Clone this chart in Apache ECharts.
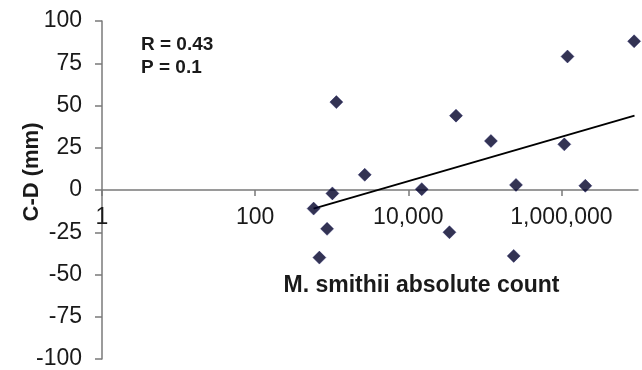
<!DOCTYPE html>
<html>
<head>
<meta charset="utf-8">
<script src="https://cdn.jsdelivr.net/npm/echarts@6/dist/echarts.min.js"></script>
<style>html,body{margin:0;padding:0;background:#fff}#c{width:642px;height:370px}</style>
</head>
<body>
<div id="c"></div>
<script>
// Data
var countX = [580, 690, 870, 1020, 1150, 2700, 15000, 34500, 42000, 120000, 238000, 255000, 1090000, 1200000, 2050000, 8900000];
var cdY = [-11, -40, -23, -2, 52, 9, 0.5, -25, 44, 29, -39, 3, 27, 79, 2.5, 88];
var trendX = [580, 9000000];
var trendY = [-11, 44];
var xTickValues = [1, 100, 10000, 1000000];
var xTickLabels = ['1', '100', '10,000', '1,000,000'];
var yTickValues = [-100, -75, -50, -25, 0, 25, 50, 75, 100];
var annotations = ['R = 0.43', 'P = 0.1'];
var xTitle = 'M. smithii absolute count';
var yTitle = 'C-D (mm)';

var FONT = '"Liberation Sans", Arial, sans-serif';
var chart = echarts.init(document.getElementById('c'), null, {renderer: 'canvas'});

function pairs(xs, ys) { return xs.map(function (x, i) { return [x, ys[i]]; }); }

var gridTop = 21, gridBottom = 11, H = 370;
var plotH = H - gridTop - gridBottom;
// x axis crosses at y = 0 (middle of -100..100)
var xOffset = -plotH / 2;

chart.setOption({
  animation: false,
  backgroundColor: '#ffffff',
  grid: {left: 102, right: 4, top: gridTop, bottom: gridBottom, containLabel: false, outerBoundsMode: 'none'},
  xAxis: {
    type: 'log', logBase: 10, min: 1, max: 10000000, offset: xOffset,
    axisLine: {onZero: false, lineStyle: {color: '#7a7a7a', width: 1.5}},
    axisTick: {show: true, inside: false, length: 6, customValues: xTickValues, lineStyle: {color: '#7a7a7a', width: 1.5}},
    axisLabel: {
      customValues: xTickValues, margin: 16, color: '#1a1a1a', fontFamily: FONT, fontSize: 23,
      formatter: function (v) {
        for (var i = 0; i < xTickValues.length; i++) {
          if (Math.abs(v - xTickValues[i]) / xTickValues[i] < 1e-6) return xTickLabels[i];
        }
        return '';
      }
    },
    splitLine: {show: false}, minorTick: {show: false}
  },
  yAxis: {
    type: 'value', min: -100, max: 100, interval: 25,
    axisLine: {show: true, onZero: false, lineStyle: {color: '#7a7a7a', width: 1.5}},
    axisTick: {show: true, inside: false, length: 7, lineStyle: {color: '#7a7a7a', width: 1.5}},
    axisLabel: {margin: 20, color: '#1a1a1a', fontFamily: FONT, fontSize: 23},
    splitLine: {show: false}
  },
  series: [
    {
      type: 'line', data: pairs(trendX, trendY), symbol: 'none',
      lineStyle: {color: '#000000', width: 2}, z: 2
    },
    {
      type: 'scatter', data: pairs(countX, cdY), symbol: 'diamond', symbolSize: 13,
      itemStyle: {color: '#000028', borderColor: '#10105a', borderWidth: 0.5}, z: 3
    }
  ],
  graphic: [
    {type: 'text', left: 141, top: 35, style: {text: annotations[0], font: 'bold 19px ' + FONT, fill: '#1a1a1a'}},
    {type: 'text', left: 141, top: 58, style: {text: annotations[1], font: 'bold 19px ' + FONT, fill: '#1a1a1a'}},
    {type: 'text', x: 421.5, y: 286, style: {text: xTitle, font: 'bold 23px ' + FONT, fill: '#1a1a1a', align: 'center', verticalAlign: 'middle'}},
    {type: 'text', x: 32, y: 172, rotation: Math.PI / 2, style: {text: yTitle, font: 'bold 22px ' + FONT, fill: '#1a1a1a', align: 'center', verticalAlign: 'middle'}}
  ]
});
</script>
</body>
</html>
